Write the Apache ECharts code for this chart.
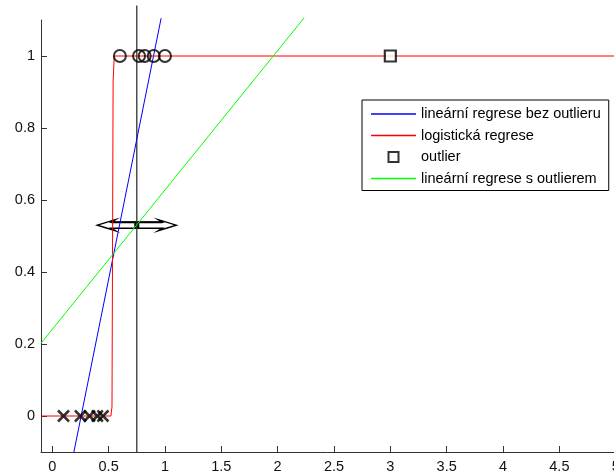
<!DOCTYPE html>
<html>
<head>
<meta charset="utf-8">
<script src="https://cdn.jsdelivr.net/npm/echarts@6/dist/echarts.min.js"></script>
<style>html,body{margin:0;padding:0;background:#fff}#c{width:614px;height:476px}</style>
</head>
<body>
<div id="c"></div>
<script>
// ---- data ----
const xTicks = [0, 0.5, 1, 1.5, 2, 2.5, 3, 3.5, 4, 4.5, 5];
const yTicks = [0, 0.2, 0.4, 0.6, 0.8, 1];

const class0X = [0.1, 0.25, 0.33, 0.4, 0.45];
const class0Y = [0, 0, 0, 0, 0];
const class1X = [0.6, 0.77, 0.82, 0.9, 1.0];
const class1Y = [1, 1, 1, 1, 1];
const outlierX = [3];
const outlierY = [1];

const blueX = [0.192, 0.966];
const blueY = [-0.1, 1.105];
const greenX = [-0.1, 2.235];
const greenY = [0.202, 1.106];
const redX = [-0.1, 0.52, 0.53, 0.54, 0.55, 5.1];
const redY = [0, 0, 0.025, 0.93, 1, 1];

const thresholdX = [0.75, 0.75];
const thresholdY = [-0.1, 1.14];

const arrowX = [0.75];
const arrowY = [0.53];
const arrowHalf = [0.35];

const names = ['lineární regrese bez outlieru', 'logistická regrese', 'outlier', 'lineární regrese s outlierem'];

const zip = (a, b) => a.map((v, i) => [v, b[i]]);
const FONT = 'Liberation Sans, Arial, sans-serif';
const LINE_ICON = 'path://M0,0H45V1.4H0Z';

const chart = echarts.init(document.getElementById('c'), null, {renderer: 'canvas'});
chart.setOption({
  animation: false,
  backgroundColor: '#fff',
  textStyle: {fontFamily: FONT},
  grid: {left: 41, top: 20, height: 432, width: 586, containLabel: false, outerBoundsMode: 'none'},
  xAxis: {
    type: 'value', min: -0.1, max: 5.1,
    axisLine: {show: true, onZero: false, lineStyle: {color: '#333', width: 1}},
    axisTick: {show: true, inside: true, length: 6, customValues: xTicks, lineStyle: {color: '#333'}},
    axisLabel: {customValues: xTicks, margin: 7, color: '#111', fontSize: 14.5, fontFamily: FONT},
    splitLine: {show: false}
  },
  yAxis: {
    type: 'value', min: -0.1, max: 1.1,
    axisLine: {show: true, onZero: false, lineStyle: {color: '#333', width: 1}},
    axisTick: {show: true, inside: true, length: 6, customValues: yTicks, lineStyle: {color: '#333'}},
    axisLabel: {customValues: yTicks, margin: 6, color: '#111', fontSize: 14.5, fontFamily: FONT},
    splitLine: {show: false}
  },
  legend: {
    orient: 'vertical',
    left: 362, top: 100,
    backgroundColor: '#fff',
    borderColor: '#000', borderWidth: 1, borderRadius: 0,
    padding: [6, 8, 4, 9],
    itemWidth: 45, itemHeight: 10, itemGap: 5.5,
    textStyle: {fontSize: 14.5, fontFamily: FONT, color: '#000', lineHeight: 16},
    selectedMode: false,
    data: [
      {name: names[0], icon: LINE_ICON, itemStyle: {color: '#0000ff', borderWidth: 0}},
      {name: names[1], icon: LINE_ICON, itemStyle: {color: '#ff0000', borderWidth: 0}},
      {name: names[2], icon: 'path://M0,0H10V10H0Z', itemStyle: {color: '#fff', borderColor: '#000', borderWidth: 2}},
      {name: names[3], icon: LINE_ICON, itemStyle: {color: '#00ff00', borderWidth: 0}}
    ]
  },
  series: [
    {
      type: 'line', name: names[0], data: zip(blueX, blueY), symbol: 'none', clip: false,
      color: '#0000ff', lineStyle: {color: '#0000ff', width: 1}, z: 3
    },
    {
      type: 'line', name: names[1], data: zip(redX, redY), symbol: 'none', clip: false,
      color: '#ff0000', lineStyle: {color: '#ff0000', width: 1}, z: 3
    },
    {
      type: 'scatter', name: names[2], data: zip(outlierX, outlierY),
      symbol: 'rect', symbolSize: 11,
      itemStyle: {color: '#fff', borderColor: '#000', borderWidth: 2.2}, z: 4
    },
    {
      type: 'line', name: names[3], data: zip(greenX, greenY), symbol: 'none', clip: false,
      color: '#00ff00', lineStyle: {color: '#00ff00', width: 1}, z: 3
    },
    {
      type: 'custom', name: 'arrow', z: 1, clip: false,
      data: arrowX.map((x, i) => [x, arrowY[i], arrowHalf[i]]),
      encode: {x: 0, y: 1},
      renderItem: function (params, api) {
        const cx = api.value(0), cy = api.value(1), h = api.value(2);
        const c = api.coord([cx, cy]);
        const l = api.coord([cx - h, cy]);
        const r = api.coord([cx + h, cy]);
        const y = c[1], hl = 18, hh = 5.5, sh = 3, nb = 4;
        const pts = [
          [l[0], y], [l[0] + hl, y - hh], [l[0] + hl - nb, y - sh], [r[0] - hl + nb, y - sh], [r[0] - hl, y - hh],
          [r[0], y], [r[0] - hl, y + hh], [r[0] - hl + nb, y + sh], [l[0] + hl - nb, y + sh], [l[0] + hl, y + hh]
        ];
        return {
          type: 'group',
          children: [
            {type: 'polygon', shape: {points: pts}, style: {fill: '#fff', stroke: '#000', lineWidth: 1.4}},
            {type: 'line', shape: {x1: l[0] + hl - nb, y1: y - sh, x2: r[0] - hl + nb, y2: y - sh}, style: {stroke: '#000', lineWidth: 2}},
            {type: 'rect', shape: {x: c[0] - 2.5, y: y - 3.5, width: 5, height: 7}, style: {fill: '#000'}}
          ]
        };
      }
    },
    {
      type: 'line', name: 'threshold', data: zip(thresholdX, thresholdY), symbol: 'none',
      clip: false, lineStyle: {color: '#333', width: 1.3}, z: 2
    },
    {
      type: 'scatter', name: 'class0', data: zip(class0X, class0Y),
      symbol: 'path://M0,0L10,10M10,0L0,10', symbolSize: 11,
      itemStyle: {color: 'transparent', borderColor: '#000', borderWidth: 2.5}, z: 4
    },
    {
      type: 'scatter', name: 'class1', data: zip(class1X, class1Y),
      symbol: 'circle', symbolSize: 12,
      itemStyle: {color: 'transparent', borderColor: '#000', borderWidth: 2}, z: 4
    }
  ]
});
</script>
</body>
</html>
